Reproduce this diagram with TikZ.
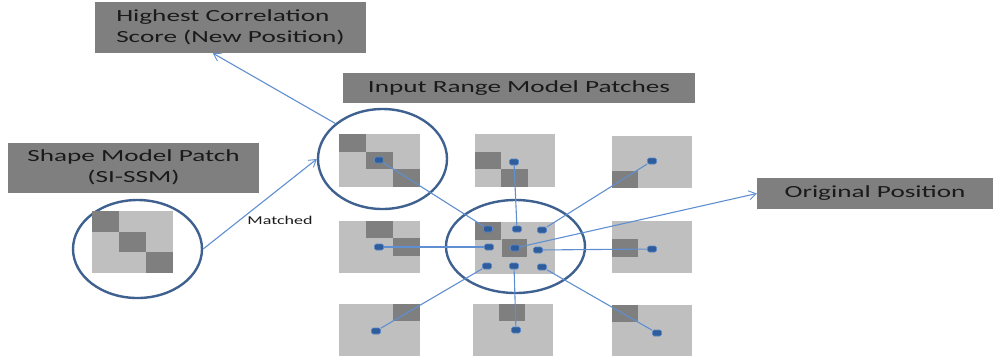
\documentclass[tikz,border=0pt]{standalone}
\usepackage{fontspec}
\setmainfont{Carlito}
\usetikzlibrary{shapes.geometric,arrows.meta,calc}
\definecolor{boxgray}{HTML}{7F7F7F}
\definecolor{lightcell}{HTML}{BFBFBF}
\definecolor{darkcell}{HTML}{7F7F7F}
\definecolor{ellblue}{HTML}{3F6190}
\definecolor{lineblue}{HTML}{5F8FD0}
\definecolor{mkfill}{HTML}{2F5D9B}
\definecolor{mkedge}{HTML}{5A88C8}
\definecolor{txt}{HTML}{1A1A1A}
\tikzset{
  graybox/.style={draw=none,fill=boxgray,inner sep=0pt,text=txt,font=\fontsize{17}{21}\selectfont},
  ring/.style={ellipse,draw=ellblue,line width=2.4pt,inner sep=0pt},
  conn/.style={draw=lineblue,line width=1.1pt},
  arr/.style={conn,-{Straight Barb[length=7pt,width=9pt,line width=0.9pt]}},
  mk/.style={rectangle,rounded corners=1.5pt,fill=mkfill,draw=mkedge,line width=0.6pt,minimum width=9pt,minimum height=6pt,inner sep=0pt},
  light/.style={fill=lightcell},
  dark/.style={fill=darkcell}
}
\newcommand{\xs}[1]{\scalebox{1.6}[1]{#1}}
\begin{document}
\begin{tikzpicture}[x=1pt,y=-1pt]
\useasboundingbox (0,0) rectangle (993,360);

% gray label boxes
\node[graybox,minimum width=271pt,minimum height=51pt] (hcs) at (230.5,27.5)
  {\xs{\begin{tabular}{@{}l@{}}Highest Correlation\\Score (New Position)\end{tabular}}};
\node[graybox,minimum width=352pt,minimum height=30pt] (irm) at (519,88)
  {\xs{Input Range Model Patches}};
\node[graybox,minimum width=251pt,minimum height=50pt] (smp) at (133.5,168)
  {\xs{\begin{tabular}{@{}c@{}}Shape Model Patch\\(SI-SSM)\end{tabular}}};
\node[graybox,minimum width=236pt,minimum height=31pt] (op) at (875,193.5)
  {\xs{Original Position}};

% ellipses
\node[ring,minimum width=129pt,minimum height=98pt] (eL) at (137.5,249) {};
\node[ring,minimum width=129pt,minimum height=100pt] (eU) at (382.5,159) {};
\node[ring,minimum width=139pt,minimum height=93pt] (eC) at (515.5,246.5) {};

% patches
% left (shape model)
\fill[light] (92,211) rectangle (173,273);
\fill[dark] (92,211) rectangle (119,231.7);
\fill[dark] (119,231.7) rectangle (146,252.3);
\fill[dark] (146,252.3) rectangle (173,273);
% upper (best)
\fill[light] (339,134) rectangle (420,187);
\fill[dark] (339,134) rectangle (366,151.7);
\fill[dark] (366,151.7) rectangle (393,169.3);
\fill[dark] (393,169.3) rectangle (420,187);
% top middle
\fill[light] (475,134) rectangle (555,187);
\fill[dark] (475,152) rectangle (501,169);
\fill[dark] (501,169) rectangle (528,187);
% top right
\fill[light] (612,136) rectangle (692,188);
\fill[dark] (612,171) rectangle (638,188);
% middle left
\fill[light] (339,221) rectangle (420,273);
\fill[dark] (366,221) rectangle (393,238);
\fill[dark] (393,238) rectangle (420,256);
% centre
\fill[light] (475,222) rectangle (555,274);
\fill[dark] (475,222) rectangle (501,240);
\fill[dark] (502,239) rectangle (527,257);
% middle right
\fill[light] (612,221) rectangle (692,273);
\fill[dark] (612,239) rectangle (638,257);
% bottom left
\fill[light] (339,304) rectangle (420,356);
\fill[dark] (393,304) rectangle (420,321);
% bottom middle
\fill[light] (473,304) rectangle (553,356);
\fill[dark] (499,304) rectangle (525,321);
% bottom right
\fill[light] (612,305) rectangle (692,356);
\fill[dark] (612,305) rectangle (638,322);

% markers
\node[mk] (c11) at (488,229) {};
\node[mk] (c12) at (517,229) {};
\node[mk] (c13) at (542,230) {};
\node[mk] (c21) at (489,247) {};
\node[mk] (c22) at (515,248) {};
\node[mk] (c23) at (538,250) {};
\node[mk] (c31) at (487,266) {};
\node[mk] (c32) at (514,266) {};
\node[mk] (c33) at (542,267) {};
\node[mk] (mU) at (379,160) {};
\node[mk] (mTM) at (514,162) {};
\node[mk] (mTR) at (652,161) {};
\node[mk] (mML) at (379,247) {};
\node[mk] (mMR) at (652,249) {};
\node[mk] (mBL) at (376,331) {};
\node[mk] (mBM) at (516,330) {};
\node[mk] (mBR) at (657,333) {};

% connectors
\draw[conn] (mU) -- (c11);
\draw[conn] (mTM) -- (c12);
\draw[conn] (mTR) -- (c13);
\draw[conn] (mML) -- (c21);
\draw[conn] (mMR) -- (c23);
\draw[conn] (mBL) -- (c31);
\draw[conn] (mBM) -- (c32);
\draw[conn] (mBR) -- (c33);
\draw[arr] (c22) -- (op.west);
\draw[arr] (eL.east) -- (eU.west);
\draw[arr] (eU.143) -- ($(hcs.south west)!0.435!(hcs.south east)$);

% label
\node[text=txt,font=\fontsize{12}{14}\selectfont] (matched) at (280,220) {\scalebox{1.5}[1]{Matched}};
\end{tikzpicture}
\end{document}
